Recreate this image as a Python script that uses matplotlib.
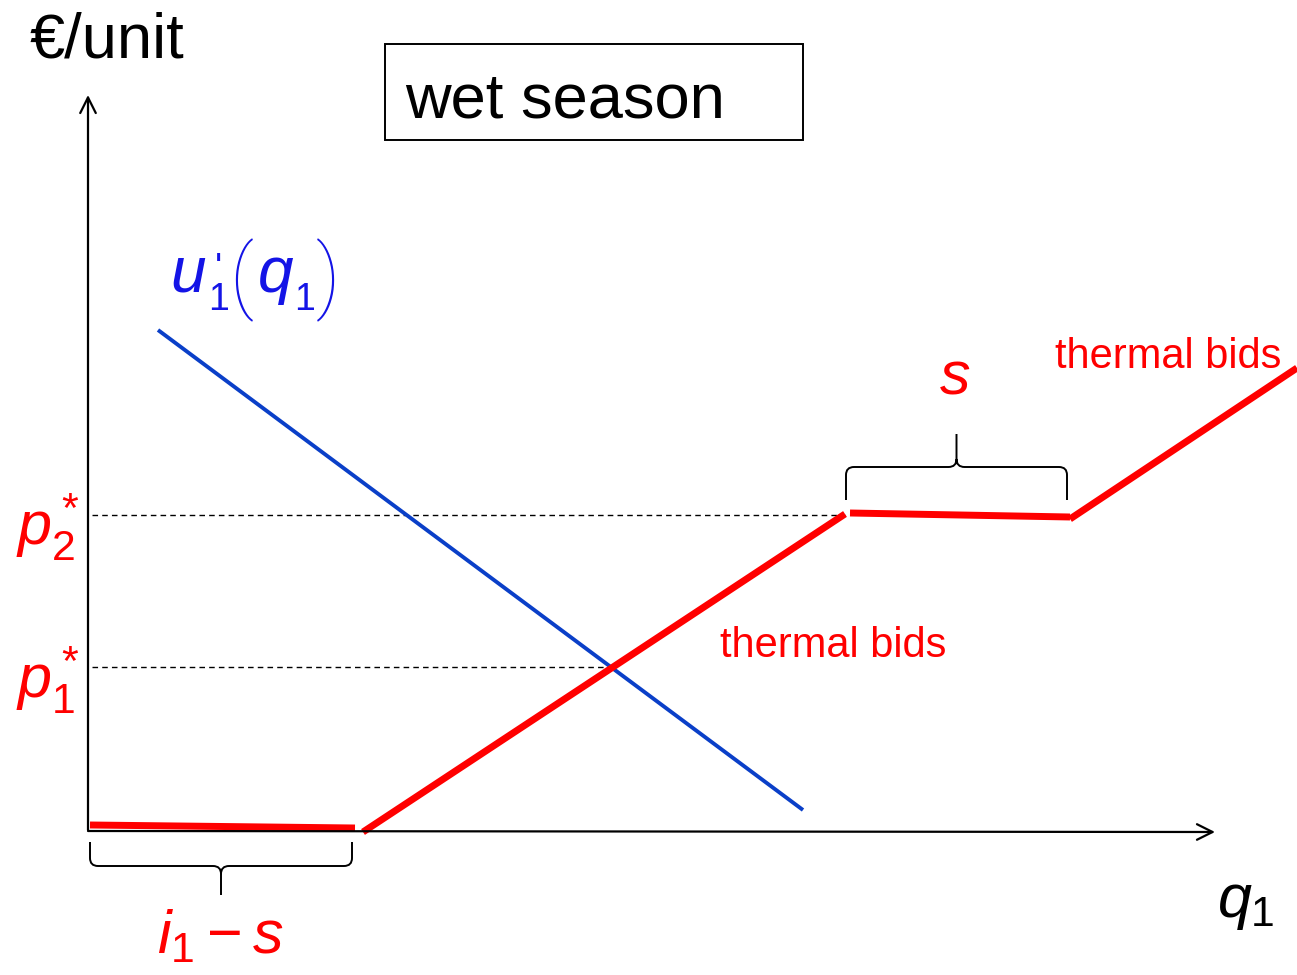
import numpy as np
import matplotlib.pyplot as plt
from matplotlib.path import Path
from matplotlib.patches import PathPatch, Rectangle

plt.rcParams['font.family'] = ['Liberation Sans', 'DejaVu Sans']
plt.rcParams['mathtext.fontset'] = 'custom'
plt.rcParams['mathtext.rm'] = 'Liberation Sans'
plt.rcParams['mathtext.it'] = 'Liberation Sans:italic'

# thermal bid curve (quantity, price), drawn as separate pieces
bid_pieces = [
    ([2, 267], [5, 2]),
    ([275, 757], [-2, 316]),
    ([762, 982], [317, 313]),
    ([982, 1209], [311, 462]),
]
# marginal utility u1'(q1)
demand_q = [70, 715]
demand_p = [500, 20]
# equilibrium prices
p1_star = 163
p2_star = 315
q_at_p1 = 522
q_at_p2 = 757

RED = '#ff0000'
BLUE = '#0a3fc8'
BLUE_TXT = '#1414e6'

fig = plt.figure(figsize=(12.97, 9.75), dpi=100)
ax = fig.add_axes([0, 0, 1, 1])
ax.set_xlim(-88, 1209)
ax.set_ylim(-145, 830)
ax.axis('off')

# axes with open arrow heads
ax.annotate('', xy=(0, 735), xytext=(0, 0),
            arrowprops=dict(arrowstyle='->', lw=1.6, color='black',
                            mutation_scale=28, shrinkA=0, shrinkB=0))
ax.annotate('', xy=(1127, -2), xytext=(0, -1),
            arrowprops=dict(arrowstyle='->', lw=1.6, color='black',
                            mutation_scale=28, shrinkA=0, shrinkB=0))

# dashed price levels
ax.plot([4, q_at_p2], [p2_star, p2_star], ls=(0, (4, 3)), lw=1, color='black')
ax.plot([4, q_at_p1], [p1_star, p1_star], ls=(0, (4, 3)), lw=1, color='black')

# demand and supply
ax.plot(demand_q, demand_p, color=BLUE, lw=2.8, solid_capstyle='butt')
for q, p in bid_pieces:
    ax.plot(q, p, color=RED, lw=5, solid_capstyle='butt')


def brace(x0, x1, ya, yb, ytip, r=8):
    xc = (x0 + x1) / 2
    d = np.sign(ytip - yb)
    verts = [(x0, ya), (x0, yb - d * r), (x0, yb), (x0 + r, yb),
             (xc - r, yb), (xc, yb), (xc, yb + d * r), (xc, ytip),
             (xc, yb + d * r), (xc, yb), (xc + r, yb),
             (x1 - r, yb), (x1, yb), (x1, yb - d * r), (x1, ya)]
    codes = [Path.MOVETO, Path.LINETO, Path.CURVE3, Path.CURVE3,
             Path.LINETO, Path.CURVE3, Path.CURVE3, Path.LINETO,
             Path.MOVETO, Path.CURVE3, Path.CURVE3,
             Path.LINETO, Path.CURVE3, Path.CURVE3, Path.LINETO]
    ax.add_patch(PathPatch(Path(verts, codes), fill=False, lw=1.4,
                           edgecolor='black'))


brace(2, 264, -12, -36, -65)
brace(758, 979, 330, 363, 396)

# text
ax.text(-58, 772, '€/unit', fontsize=45.5, ha='left', va='baseline')
ax.add_patch(Rectangle((297, 690), 418, 96, fill=False, lw=1.4,
                       edgecolor='black'))
ax.text(317, 713, 'wet season', fontsize=45.5, ha='left', va='baseline')

# u'_1(q_1) built piece by piece so the brackets can be tall
paren = dict(fontsize=58, color=BLUE_TXT, ha='center', va='center',
             family=['Roboto', 'Liberation Sans'], fontweight='light')
ax.text(82, 538, 'u', fontsize=46, style='italic', color=BLUE_TXT,
        ha='left', va='baseline')
ax.text(120, 520, "'\n1", fontsize=27, color=BLUE_TXT, ha='left',
        va='baseline', multialignment='center', linespacing=0.8)
ax.text(153, 550, '(', **paren)
ax.text(170, 538, 'q', fontsize=46, style='italic', color=BLUE_TXT,
        ha='left', va='baseline')
ax.text(206, 520, '1', fontsize=27, color=BLUE_TXT, ha='left', va='baseline')
ax.text(240, 550, ')', **paren)

ax.text(632, 184, 'thermal bids', fontsize=30, color=RED, ha='left', va='center')
ax.text(967, 473, 'thermal bids', fontsize=30, color=RED, ha='left', va='center')
ax.text(867, 452, r'$s$', fontsize=44, color=RED, ha='center', va='center')
ax.text(-40, 303, r'$p_2^*$', fontsize=44, color=RED, ha='center', va='center')
ax.text(-40, 150, r'$p_1^*$', fontsize=44, color=RED, ha='center', va='center')
ax.text(132, -108, r'$i_1 - s$', fontsize=44, color=RED, ha='center', va='center')
ax.text(1158, -74, r'$q_1$', fontsize=44, color='black', ha='center', va='center')

fig.savefig('out.png', dpi=100)
